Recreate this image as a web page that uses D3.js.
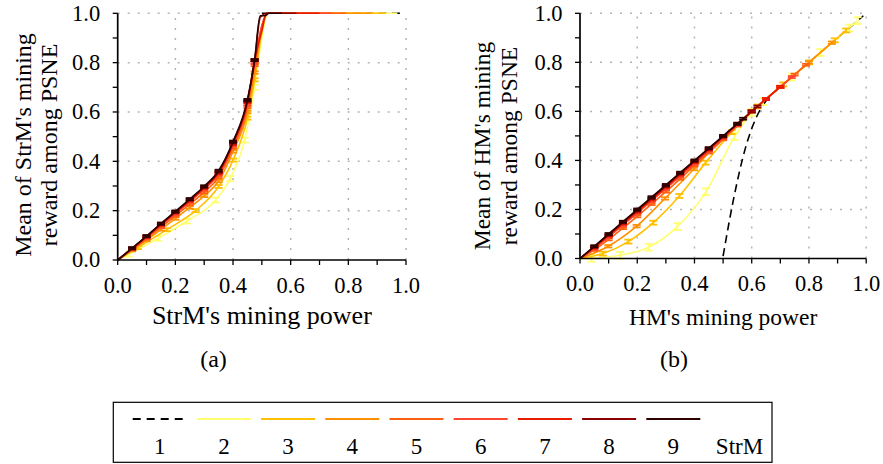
<!DOCTYPE html>
<html><head><meta charset="utf-8">
<script src="https://cdn.jsdelivr.net/npm/d3@7"></script>
<style>
body{margin:0;background:#fff;}
svg{display:block;}
svg text{font-family:"Liberation Serif","Times New Roman",Times,serif !important;fill:#000;}
</style>
</head><body>
<svg id="c" width="883" height="464"></svg>
<script>
// ---------- data ----------
const seriesLabels = ["1","2","3","4","5","6","7","8","9"];
const legendTitle = "StrM";
const seriesColors = ["#000000","#ffff70","#ffc000","#ff9000","#ff6010","#ff4530","#e81a00","#8c0000","#2e0000"];
const tickVals = [0,0.1,0.2,0.3,0.4,0.5,0.6,0.7,0.8,0.9,1.0];
const labelVals = [0,0.2,0.4,0.6,0.8,1.0];
const gridVals = [0.2,0.4,0.6,0.8,1.0];

// panel (a): StrM's mining reward
const aX = [
  [0.5,0.99],
  [0,0.04,0.14,0.24,0.34,0.39,0.44,0.475,0.5,0.52,0.6,0.7,0.8,0.9,0.97],
  [0,0.07,0.17,0.27,0.35,0.4,0.45,0.475,0.5,0.52,0.6,0.7,0.8,0.93],
  [0,0.05,0.1,0.15,0.2,0.25,0.3,0.35,0.4,0.45,0.475,0.5,0.52,0.6,0.7,0.8,0.88],
  [0,0.05,0.1,0.15,0.2,0.25,0.3,0.35,0.4,0.45,0.475,0.5,0.52,0.6,0.7,0.79],
  [0,0.05,0.1,0.15,0.2,0.25,0.3,0.35,0.4,0.45,0.475,0.5,0.52,0.6,0.7,0.74],
  [0,0.05,0.1,0.15,0.2,0.25,0.3,0.35,0.4,0.45,0.475,0.5,0.516,0.6,0.7],
  [0,0.05,0.1,0.15,0.2,0.25,0.3,0.35,0.4,0.45,0.475,0.495,0.52,0.62],
  [0,0.05,0.1,0.15,0.2,0.25,0.3,0.35,0.4,0.45,0.475,0.494,0.51,0.525,0.57]
];
const aY = [
  [1,1],
  [0,0.024,0.088,0.158,0.243,0.33,0.486,0.7,0.9,1,1,1,1,1,1],
  [0,0.05,0.123,0.2,0.298,0.405,0.575,0.73,0.92,1,1,1,1,1],
  [0,0.04,0.081,0.124,0.168,0.213,0.26,0.32,0.44,0.6,0.76,0.94,1,1,1,1,1],
  [0,0.043,0.087,0.133,0.179,0.226,0.275,0.336,0.455,0.62,0.79,0.95,1,1,1,1],
  [0,0.045,0.091,0.139,0.187,0.236,0.287,0.347,0.466,0.632,0.8,0.95,1,1,1,1],
  [0,0.046,0.094,0.143,0.192,0.241,0.292,0.352,0.47,0.64,0.81,0.93,1,1,1],
  [0,0.047,0.096,0.146,0.195,0.245,0.296,0.358,0.476,0.645,0.81,0.985,1,1],
  [0,0.048,0.097,0.148,0.197,0.247,0.299,0.362,0.48,0.649,0.81,0.99,0.99,1,1]
];
const aErr = [0,0.01,0.006,0.005,0.004,0.004,0.004,0.004,0.004];

// panel (b): HM's mining reward
const bX = [
  [0.5,0.536,0.576,0.617,0.652,0.7,0.8,0.9,0.99],
  [0,0.04,0.14,0.24,0.34,0.44,0.54,0.6,0.64,0.74,0.84,0.94,0.97],
  [0,0.08,0.169,0.256,0.347,0.439,0.53,0.62,0.71,0.8,0.89,0.93],
  [0,0.099,0.198,0.297,0.398,0.5,0.6,0.7,0.8,0.88],
  [0,0.05,0.1,0.15,0.2,0.25,0.3,0.35,0.4,0.45,0.5,0.55,0.6,0.65,0.7,0.75,0.79],
  [0,0.05,0.1,0.15,0.2,0.25,0.3,0.35,0.4,0.45,0.5,0.55,0.6,0.65,0.7,0.74],
  [0,0.05,0.1,0.15,0.2,0.25,0.3,0.35,0.4,0.45,0.5,0.55,0.6,0.65,0.7],
  [0,0.05,0.1,0.15,0.2,0.25,0.3,0.35,0.4,0.45,0.5,0.55,0.6,0.62],
  [0,0.05,0.1,0.15,0.2,0.25,0.3,0.35,0.4,0.45,0.5,0.55,0.57]
];
const bY = [
  [0.01,0.239,0.442,0.578,0.646,0.7,0.8,0.9,0.99],
  [0,0.001,0.013,0.046,0.13,0.272,0.497,0.596,0.64,0.74,0.84,0.94,0.97],
  [0,0.02,0.069,0.146,0.255,0.391,0.515,0.62,0.71,0.8,0.89,0.93],
  [0,0.05,0.132,0.245,0.365,0.495,0.6,0.7,0.8,0.88],
  [0,0.035,0.078,0.124,0.172,0.222,0.273,0.325,0.38,0.432,0.486,0.542,0.6,0.65,0.7,0.75,0.79],
  [0,0.041,0.088,0.136,0.185,0.235,0.285,0.336,0.387,0.439,0.491,0.545,0.6,0.65,0.7,0.74],
  [0,0.045,0.093,0.142,0.191,0.241,0.291,0.342,0.393,0.444,0.496,0.548,0.6,0.65,0.7],
  [0,0.048,0.097,0.147,0.196,0.246,0.296,0.347,0.397,0.448,0.498,0.549,0.6,0.62],
  [0,0.05,0.1,0.15,0.2,0.25,0.3,0.35,0.4,0.45,0.5,0.55,0.57]
];
const bErr = [0,0.014,0.008,0.005,0.004,0.004,0.004,0.004,0.004];

// ---------- drawing ----------
const FONT = "'Liberation Serif','Times New Roman',Times,serif";
const svg = d3.select("#c");
const fmt = d3.format(".1f");

function panel(cfg){
  const x = d3.scaleLinear().domain([0,1]).range(cfg.xr);
  const y = d3.scaleLinear().domain([0,1]).range(cfg.yr);
  const g = svg.append("g");

  g.selectAll(".gv").data(gridVals).join("line")
    .attr("x1",d=>x(d)).attr("x2",d=>x(d)).attr("y1",y(0)).attr("y2",y(1))
    .attr("stroke","#b4b4b4").attr("stroke-width",1.5).attr("stroke-dasharray","2,8");
  g.selectAll(".gh").data(gridVals).join("line")
    .attr("y1",d=>y(d)).attr("y2",d=>y(d)).attr("x1",x(0)).attr("x2",x(1))
    .attr("stroke","#b4b4b4").attr("stroke-width",1.5).attr("stroke-dasharray","2,8");

  const line = d3.line().x(d=>x(d[0])).y(d=>y(d[1])).curve(d3.curveMonotoneX);
  cfg.X.forEach((xs,i)=>{
    const pts = xs.map((v,j)=>[v,cfg.Y[i][j]]);
    g.append("path").attr("d",line(pts)).attr("fill","none")
      .attr("stroke",seriesColors[i]).attr("stroke-width",1.6)
      .attr("stroke-dasharray", i===0 ? "8,5" : null);
    if(i>0){
      const e = cfg.E[i];
      const mk = pts.filter(p=>p[0]>0 && p[0]<=cfg.mkMax);
      const mg = g.append("g").attr("stroke",seriesColors[i]).attr("stroke-width",1.8);
      mk.forEach(p=>{
        const cx = x(p[0]);
        const y1 = y(p[1]-e), y2 = y(p[1]+e);
        mg.append("line").attr("x1",cx).attr("x2",cx).attr("y1",y1).attr("y2",y2);
        mg.append("line").attr("x1",cx-4).attr("x2",cx+4).attr("y1",y1).attr("y2",y1);
        mg.append("line").attr("x1",cx-4).attr("x2",cx+4).attr("y1",y2).attr("y2",y2);
      });
    }
  });

  const tf = d=> labelVals.some(v=>Math.abs(v-d)<1e-9) ? fmt(d) : "";
  const ax = g.append("g").attr("transform",`translate(0,${y(0)})`)
    .call(d3.axisBottom(x).tickValues(tickVals).tickFormat(tf).tickSize(5).tickSizeOuter(0).tickPadding(12).offset(0));
  const ay = g.append("g").attr("transform",`translate(${x(0)},0)`)
    .call(d3.axisLeft(y).tickValues(tickVals).tickFormat(tf).tickSize(5).tickSizeOuter(0).tickPadding(12.5).offset(0));
  [ax,ay].forEach(a=>{
    a.attr("font-family",null).attr("font-size",null);
    a.select(".domain").attr("stroke","#000").attr("stroke-width",1.7);
    a.selectAll(".tick line").attr("stroke","#000").attr("stroke-width",1.3);
    a.selectAll(".tick text").style("font-family",FONT).style("font-size","22.5px").attr("fill","#000");
  });

  g.append("text").attr("x",(cfg.xr[0]+cfg.xr[1])/2).attr("y",cfg.xtY)
    .attr("text-anchor","middle").style("font-family",FONT).style("font-size",cfg.xtSize+"px").text(cfg.xTitle);
  cfg.yTitle.forEach((t,k)=>{
    g.append("text").attr("transform",`translate(${cfg.ytX[k]},${cfg.ytC}) rotate(-90)`)
      .attr("text-anchor","middle").style("font-family",FONT).style("font-size",cfg.ytSize+"px").text(t);
  });
  g.append("text").attr("x",cfg.capX).attr("y",367).attr("text-anchor","middle")
    .style("font-family",FONT).style("font-size","24px").text(cfg.cap);
}

panel({xr:[117.7,406],yr:[260,13.3],X:aX,Y:aY,E:aErr,mkMax:0.48,
  xTitle:"StrM's mining power",xtY:324,xtSize:26,
  yTitle:["Mean of StrM's mining","reward among PSNE"],ytX:[31,57],ytC:145,ytSize:24,
  capX:213.5,cap:"(a)"});
panel({xr:[580,866.2],yr:[258.5,13.3],X:bX,Y:bY,E:bErr,mkMax:1,
  xTitle:"HM's mining power",xtY:325,xtSize:23.5,
  yTitle:["Mean of HM's mining","reward among PSNE"],ytX:[490,517],ytC:146,ytSize:23.5,
  capX:674,cap:"(b)"});

const lg = svg.append("g");
lg.append("rect").attr("x",113.3).attr("y",402.3).attr("width",658.7).attr("height",60)
  .attr("fill","none").attr("stroke","#000").attr("stroke-width",1.2);
const lx = d3.scalePoint().domain(seriesLabels.concat([legendTitle])).range([159.7,737.5]);
seriesLabels.forEach((s,i)=>{
  const cx = lx(s);
  lg.append("line").attr("x1",cx-27).attr("x2",cx+27).attr("y1",419).attr("y2",419)
    .attr("stroke",seriesColors[i]).attr("stroke-width",2)
    .attr("stroke-dasharray", i===0 ? "8,6" : null);
  lg.append("text").attr("x",cx).attr("y",454).attr("text-anchor","middle")
    .style("font-family",FONT).style("font-size","23px").text(s);
});
lg.append("text").attr("x",lx(legendTitle)+2).attr("y",454).attr("text-anchor","middle")
  .style("font-family",FONT).style("font-size","23px").text(legendTitle);
</script>
</body></html>
